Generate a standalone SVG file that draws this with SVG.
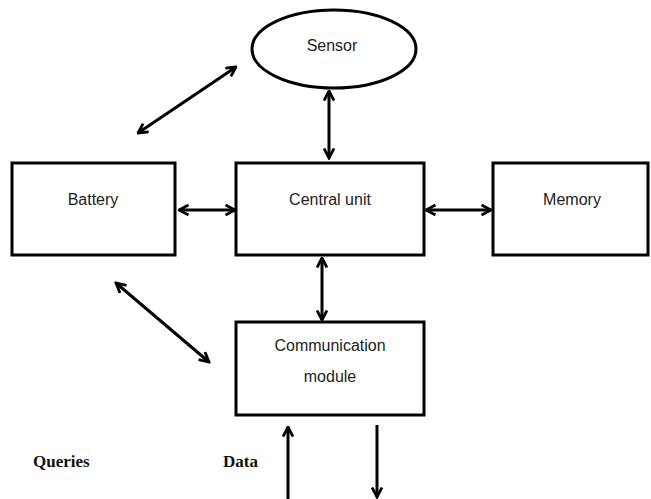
<svg xmlns="http://www.w3.org/2000/svg" width="651" height="499" viewBox="0 0 651 499">
<style>
.box{fill:#fff;stroke:#000;stroke-width:3}
.lbl{font-family:"Liberation Sans",Arial,sans-serif;font-size:16px;fill:#222;text-anchor:middle}
.bold{font-family:"Liberation Serif","Times New Roman",serif;font-size:17px;font-weight:bold;fill:#111}
.con{stroke:#000;stroke-width:3;fill:none}
</style>
<defs>
<marker id="ah" viewBox="0 0 12 12" markerWidth="12" markerHeight="12" refX="10.5" refY="6" orient="auto-start-reverse" markerUnits="userSpaceOnUse">
<path d="M1,1 L10.5,6 L1,11" fill="none" stroke="#000" stroke-width="2.8" stroke-linejoin="miter"/>
</marker>
</defs>
<rect width="651" height="499" fill="#fff"/>
<g id="sensor">
<ellipse class="box" cx="334" cy="49" rx="82" ry="39"/>
<text class="lbl" x="332" y="51">Sensor</text>
</g>
<g id="battery">
<rect class="box" x="12" y="163" width="163" height="92"/>
<text class="lbl" x="93" y="205">Battery</text>
</g>
<g id="central">
<rect class="box" x="236" y="163" width="188" height="92"/>
<text class="lbl" x="330" y="205">Central unit</text>
</g>
<g id="memory">
<rect class="box" x="493" y="163" width="155" height="92"/>
<text class="lbl" x="572" y="205">Memory</text>
</g>
<g id="comm">
<rect class="box" x="236" y="322" width="188" height="93"/>
<text class="lbl" x="330" y="351">Communication</text>
<text class="lbl" x="330" y="382">module</text>
</g>
<g id="labels">
<text class="bold" x="33" y="467">Queries</text>
<text class="bold" x="223" y="467">Data</text>
</g>
<g id="connectors">
<line class="con" x1="329" y1="91" x2="329" y2="158" marker-start="url(#ah)" marker-end="url(#ah)"/>
<line class="con" x1="138" y1="133" x2="236" y2="67" marker-start="url(#ah)" marker-end="url(#ah)"/>
<line class="con" x1="179" y1="210" x2="235" y2="210" marker-start="url(#ah)" marker-end="url(#ah)"/>
<line class="con" x1="426" y1="210" x2="491" y2="210" marker-start="url(#ah)" marker-end="url(#ah)"/>
<line class="con" x1="322" y1="258" x2="322" y2="320" marker-start="url(#ah)" marker-end="url(#ah)"/>
<line class="con" x1="116" y1="283" x2="209" y2="362" marker-start="url(#ah)" marker-end="url(#ah)"/>
<line class="con" x1="288" y1="499" x2="288" y2="427" marker-end="url(#ah)"/>
<line class="con" x1="377" y1="425" x2="377" y2="497" marker-end="url(#ah)"/>
</g>
</svg>
